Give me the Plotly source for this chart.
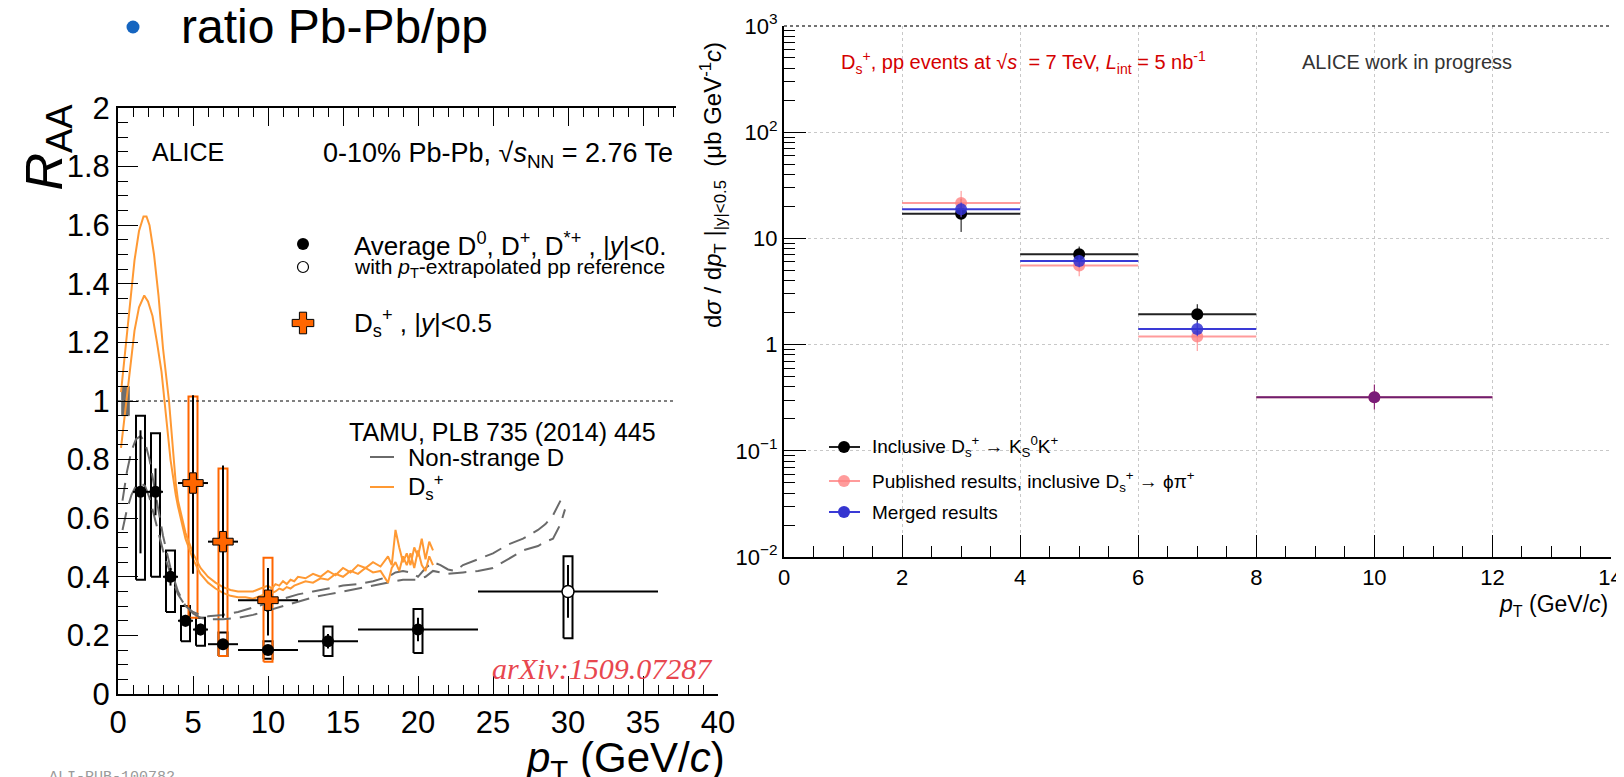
import plotly.graph_objects as go

W, H = 1624, 777          # screen size
OFF = 8                   # page margin of the browser
FW, FH = W - OFF, H - OFF # figure size
FONT = "Liberation Sans, Arial, sans-serif"

# ---------------- Left panel: R_AA ----------------
avg_pt = [1.5, 2.5, 3.5, 4.5, 5.5, 7, 10, 14, 20]
avg_raa = [0.69, 0.69, 0.40, 0.25, 0.22, 0.17, 0.15, 0.18, 0.22]
avg_bin = [0.5, 0.5, 0.5, 0.5, 0.5, 1, 2, 2, 4]
avg_stat = [0.21, 0.08, 0.03, 0.02, 0.02, 0.015, 0.015, 0.025, 0.04]
avg_sys_lo = [0.39, 0.40, 0.28, 0.18, 0.165, 0.13, 0.12, 0.13, 0.14]
avg_sys_hi = [0.95, 0.89, 0.49, 0.30, 0.26, 0.21, 0.18, 0.23, 0.29]

ext_pt = [30]
ext_raa = [0.35]
ext_bin = [6]
ext_stat = [0.09]
ext_sys_lo = [0.19]
ext_sys_hi = [0.47]

ds_pt = [5, 7, 10]
ds_raa = [0.72, 0.52, 0.32]
ds_bin = [1, 1, 2]
ds_stat_up = [0.30, 0.26, 0.11]
ds_stat_dn = [0.31, 0.26, 0.12]
ds_sys_lo = [0.26, 0.13, 0.11]
ds_sys_hi = [1.015, 0.77, 0.465]

norm_pt = [0.5]
norm_unc = [0.05]

unity_pt = [0, 37.2]
unity_val = [1, 1]

tamu_ds_a_pt = [0.2, 0.5, 0.8, 1.1, 1.4, 1.7, 1.9, 2.1, 2.4, 2.7, 3.0, 3.4, 3.85, 4.0, 4.5, 5.0, 5.5,
                6.0, 6.5, 7.0, 7.5, 8.0, 8.5, 9.0, 9.5, 10.0, 10.25, 10.5, 10.75, 11.0, 11.25, 11.5,
                11.75, 12.0, 12.5, 13.0, 13.5, 14.0, 14.5, 15.0, 15.5, 16.0, 16.5, 17.0, 17.5, 18.0,
                18.25, 18.5, 18.75, 19.0, 19.25, 19.5, 19.75, 20.0, 20.25, 20.5, 20.75, 21.0]
tamu_ds_a = [1.03, 1.18, 1.34, 1.48, 1.58, 1.63, 1.63, 1.60, 1.50, 1.36, 1.18, 1.00, 0.72, 0.66, 0.55,
             0.48, 0.43, 0.40, 0.38, 0.365, 0.355, 0.35, 0.35, 0.35, 0.36, 0.37, 0.36, 0.375, 0.37,
             0.385, 0.375, 0.39, 0.385, 0.40, 0.395, 0.41, 0.40, 0.42, 0.405, 0.43, 0.415, 0.44, 0.43,
             0.45, 0.435, 0.47, 0.44, 0.56, 0.50, 0.45, 0.48, 0.44, 0.50, 0.47, 0.53, 0.46, 0.52, 0.49]
tamu_ds_b_pt = [0.2, 0.5, 0.8, 1.1, 1.4, 1.75, 2.0, 2.3, 2.6, 2.9, 3.1, 3.5, 3.85, 4.0, 4.5, 5.0, 5.5,
                6.0, 6.5, 7.0, 7.5, 8.0, 8.5, 9.0, 9.5, 10.0, 10.25, 10.5, 10.75, 11.0, 11.25, 11.5,
                11.75, 12.0, 12.5, 13.0, 13.5, 14.0, 14.5, 15.0, 15.5, 16.0, 16.5, 17.0, 17.5, 18.0,
                18.25, 18.5, 18.75, 19.0, 19.25, 19.5, 19.75, 20.0, 20.25, 20.5, 20.75, 21.0]
tamu_ds_b = [0.84, 0.98, 1.12, 1.24, 1.32, 1.36, 1.34, 1.29, 1.20, 1.10, 1.00, 0.80, 0.68, 0.64, 0.53,
             0.46, 0.41, 0.38, 0.36, 0.345, 0.335, 0.33, 0.33, 0.325, 0.335, 0.345, 0.345, 0.35, 0.36,
             0.355, 0.365, 0.36, 0.37, 0.375, 0.385, 0.38, 0.395, 0.39, 0.41, 0.40, 0.42, 0.41, 0.43,
             0.415, 0.42, 0.38, 0.43, 0.45, 0.42, 0.47, 0.44, 0.48, 0.43, 0.49, 0.44, 0.42, 0.47, 0.44]

tamu_d_a_pt = [0.3, 0.6, 0.9, 1.2, 1.5, 1.8, 2.1, 2.5, 3.0, 3.5, 4.0, 4.5, 5.0, 5.5, 6, 7, 8, 9, 10, 11,
               12, 13, 14, 15, 16, 17, 18, 18.5, 19, 19.5, 20, 20.5, 21, 21.5, 22, 22.5, 23, 24, 25,
               26, 27, 28, 28.5, 29, 29.5]
tamu_d_a = [0.66, 0.76, 0.83, 0.87, 0.88, 0.86, 0.80, 0.69, 0.54, 0.43, 0.35, 0.30, 0.28, 0.27, 0.265,
            0.27, 0.28, 0.295, 0.31, 0.325, 0.34, 0.35, 0.36, 0.37, 0.375, 0.385, 0.40, 0.415, 0.42,
            0.415, 0.40, 0.43, 0.45, 0.44, 0.425, 0.42, 0.44, 0.46, 0.48, 0.51, 0.53, 0.56, 0.58,
            0.61, 0.66]
tamu_d_b_pt = [0.3, 0.6, 0.9, 1.2, 1.5, 1.8, 2.1, 2.5, 3.0, 3.5, 4.0, 4.5, 5.0, 5.5, 6, 7, 8, 9, 10, 11,
               12, 13, 14, 15, 16, 17, 18, 19, 20, 20.5, 21, 22, 23, 24, 25, 26, 27, 28, 28.5, 29,
               29.5, 29.8]
tamu_d_b = [0.56, 0.63, 0.68, 0.71, 0.72, 0.71, 0.67, 0.59, 0.49, 0.41, 0.34, 0.30, 0.275, 0.26,
            0.255, 0.255, 0.26, 0.27, 0.285, 0.30, 0.315, 0.33, 0.34, 0.35, 0.36, 0.37, 0.38, 0.39,
            0.39, 0.40, 0.42, 0.41, 0.415, 0.42, 0.43, 0.46, 0.49, 0.505, 0.52, 0.53, 0.58, 0.63]

# ---------------- Right panel: cross section ----------------
incl_pt = [3, 5, 7]
incl_bin = [1, 1, 1]
incl_xs = [17.1, 7.08, 1.93]
incl_up = [6.5, 1.3, 0.47]
incl_dn = [5.6, 1.05, 0.33]

pub_pt = [3, 5, 7, 10]
pub_bin = [1, 1, 1, 2]
pub_xs = [21.6, 5.55, 1.19, 0.32]
pub_up = [6.4, 1.15, 0.31, 0.10]
pub_dn = [5.6, 1.15, 0.32, 0.075]

mrg_pt = [3, 5, 7, 10]
mrg_bin = [1, 1, 1, 2]
mrg_xs = [18.8, 6.13, 1.40, 0.32]
mrg_up = [3.0, 0.8, 0.25, 0.10]
mrg_dn = [3.0, 0.8, 0.20, 0.075]

left_xticks = [0, 5, 10, 15, 20, 25, 30, 35, 40]
right_yticks = [0.01, 0.1, 1, 10, 100, 1000]
right_yticktext = ["10<sup>−2</sup>", "10<sup>−1</sup>", "1", "10", "10<sup>2</sup>", "10<sup>3</sup>"]

# ---------------- geometry (screen pixels) ----------------
LX0, LX1 = 118, 718      # left x 0 -> 40
LY0, LY1 = 694, 108      # left y 0 -> 2
LCUT = 676               # where the right picture covers the left one
RX0, RX1 = 784, 1610.5
RY0, RY1 = 557, 26

def px(x):
    return (x - OFF) / FW

def py(y):
    return 1 - (y - OFF) / FH

fig = go.Figure()

def box_path(xs, lo, hi, hw):
    X, Y = [], []
    for x, l, h in zip(xs, lo, hi):
        X += [x - hw, x + hw, x + hw, x - hw, x - hw, None]
        Y += [l, l, h, h, l, None]
    return X, Y

# systematic boxes
bx, by = box_path(avg_pt + ext_pt, avg_sys_lo + ext_sys_lo, avg_sys_hi + ext_sys_hi, 0.3)
fig.add_trace(go.Scatter(x=bx, y=by, mode="lines", line=dict(color="black", width=2),
                         xaxis="x", yaxis="y", hoverinfo="skip"))
bx, by = box_path(ds_pt, ds_sys_lo, ds_sys_hi, 0.3)
fig.add_trace(go.Scatter(x=bx, y=by, mode="lines", line=dict(color="#ff6600", width=2),
                         xaxis="x", yaxis="y", hoverinfo="skip"))
# normalisation box
nx, ny = box_path(norm_pt, [1 - u for u in norm_unc], [1 + u for u in norm_unc], 0.25)
fig.add_trace(go.Scatter(x=nx, y=ny, mode="lines", fill="toself", fillcolor="#6e6e6e",
                         line=dict(color="#6e6e6e", width=1), xaxis="x", yaxis="y", hoverinfo="skip"))
# unity line
fig.add_trace(go.Scatter(x=unity_pt, y=unity_val, mode="lines",
                         line=dict(color="black", width=1, dash="3px,3px"),
                         xaxis="x", yaxis="y", hoverinfo="skip"))
# model curves
for xs, ys in [(tamu_d_a_pt, tamu_d_a), (tamu_d_b_pt, tamu_d_b)]:
    fig.add_trace(go.Scatter(x=xs, y=ys, mode="lines",
                             line=dict(color="#6a6a6a", width=2, dash="18px,9px"),
                             xaxis="x", yaxis="y", hoverinfo="skip"))
for xs, ys in [(tamu_ds_a_pt, tamu_ds_a), (tamu_ds_b_pt, tamu_ds_b)]:
    fig.add_trace(go.Scatter(x=xs, y=ys, mode="lines",
                             line=dict(color="#ff9933", width=2),
                             xaxis="x", yaxis="y", hoverinfo="skip"))
# average D
fig.add_trace(go.Scatter(x=avg_pt, y=avg_raa, mode="markers",
                         marker=dict(color="black", size=12),
                         error_x=dict(type="data", array=avg_bin, color="black", thickness=2, width=0),
                         error_y=dict(type="data", array=avg_stat, color="black", thickness=2, width=0),
                         xaxis="x", yaxis="y"))
fig.add_trace(go.Scatter(x=ext_pt, y=ext_raa, mode="markers",
                         marker=dict(color="white", size=12, line=dict(color="black", width=1.5)),
                         error_x=dict(type="data", array=ext_bin, color="black", thickness=2, width=0),
                         error_y=dict(type="data", array=ext_stat, color="black", thickness=2, width=0),
                         xaxis="x", yaxis="y"))
# Ds
fig.add_trace(go.Scatter(x=ds_pt, y=ds_raa, mode="markers",
                         marker=dict(color="#ff6600", size=17, symbol="cross",
                                     line=dict(color="black", width=1)),
                         error_x=dict(type="data", array=ds_bin, color="black", thickness=2, width=0),
                         error_y=dict(type="data", symmetric=False, array=ds_stat_up,
                                      arrayminus=ds_stat_dn, color="black", thickness=2, width=0),
                         xaxis="x", yaxis="y"))
# invisible trace holding the top frame axis of the left panel
fig.add_trace(go.Scatter(x=[0], y=[0], mode="markers", marker=dict(opacity=0),
                         xaxis="x3", yaxis="y", hoverinfo="skip"))

# ---------------- right panel traces ----------------
fig.add_trace(go.Scatter(x=incl_pt, y=incl_xs, mode="markers",
                         marker=dict(color="black", size=12),
                         error_x=dict(type="data", array=incl_bin, color="#222", thickness=2, width=0),
                         error_y=dict(type="data", symmetric=False, array=incl_up, arrayminus=incl_dn,
                                      color="black", thickness=1, width=0),
                         xaxis="x2", yaxis="y2"))
fig.add_trace(go.Scatter(x=pub_pt, y=pub_xs, mode="markers",
                         marker=dict(color="rgba(255,130,130,0.8)", size=12),
                         error_x=dict(type="data", array=pub_bin, color="rgba(255,130,130,0.8)",
                                      thickness=2, width=0),
                         error_y=dict(type="data", symmetric=False, array=pub_up, arrayminus=pub_dn,
                                      color="rgba(255,130,130,0.9)", thickness=1, width=0),
                         xaxis="x2", yaxis="y2"))
fig.add_trace(go.Scatter(x=mrg_pt[:3], y=mrg_xs[:3], mode="markers",
                         marker=dict(color="rgba(50,50,210,0.85)", size=12),
                         error_x=dict(type="data", array=mrg_bin[:3], color="#3a3ad6", thickness=2, width=0),
                         error_y=dict(type="data", symmetric=False, array=mrg_up[:3], arrayminus=mrg_dn[:3],
                                      color="#3a3ad6", thickness=1, width=0),
                         xaxis="x2", yaxis="y2"))
fig.add_trace(go.Scatter(x=mrg_pt[3:], y=mrg_xs[3:], mode="markers",
                         marker=dict(color="#7a1c78", size=12),
                         error_x=dict(type="data", array=mrg_bin[3:], color="#6e1f70", thickness=2, width=0),
                         error_y=dict(type="data", symmetric=False, array=mrg_up[3:], arrayminus=mrg_dn[3:],
                                      color="#7a1c78", thickness=1, width=0),
                         xaxis="x2", yaxis="y2"))

# ---------------- legend keys (screen-pixel overlay) ----------------
def key_marker(x, y, **m):
    fig.add_trace(go.Scatter(x=[x], y=[y], mode="markers", marker=m, xaxis="x4", yaxis="y4",
                             hoverinfo="skip"))

def key_line(x0, x1, y, color, width=2):
    fig.add_trace(go.Scatter(x=[x0, x1], y=[y, y], mode="lines", line=dict(color=color, width=width),
                             xaxis="x4", yaxis="y4", hoverinfo="skip"))

key_marker(133, 27, color="#1565c0", size=13)
key_marker(303, 244, color="black", size=12)
key_marker(303, 267, color="white", size=11, line=dict(color="black", width=1.2))
key_marker(303, 323, color="#ff6600", size=18, symbol="cross", line=dict(color="black", width=1))
key_line(370, 394, 457, "#6a6a6a")
key_line(370, 394, 487, "#ff9933")
key_line(829, 860, 447, "#222")
key_marker(844, 447, color="black", size=12)
key_line(829, 860, 481, "rgba(255,130,130,0.8)")
key_marker(844, 481, color="rgba(255,130,130,0.8)", size=12)
key_line(829, 860, 512, "#3a3ad6")
key_marker(844, 512, color="#3535d0", size=12)

# ---------------- annotations ----------------
anns = []

def ann(text, x, y, size, color="black", xa="left", ya="middle", font=FONT, angle=0):
    anns.append(dict(text=text, x=px(x), y=py(y), xref="paper", yref="paper", showarrow=False,
                     xanchor=xa, yanchor=ya, textangle=angle,
                     font=dict(size=size, color=color, family=font)))

ann("ratio Pb-Pb/pp", 179, 26, 48)
ann("ALICE", 150, 152, 25)
ann("0-10% Pb-Pb, √<i>s</i><sub>NN</sub> = 2.76 Te", 321, 155, 27)
ann("Average D<sup>0</sup>, D<sup>+</sup>, D<sup>*+</sup> , |<i>y</i>|&lt;0.", 352, 244, 26)
ann("with <i>p</i><sub>T</sub>-extrapolated pp reference", 352, 268, 21)
ann("D<sub>s</sub><sup>+</sup> , |<i>y</i>|&lt;0.5", 352, 323, 26)
ann("TAMU, PLB 735 (2014) 445", 347, 432, 25)
ann("Non-strange D", 406, 457, 24)
ann("D<sub>s</sub><sup>+</sup>", 406, 487, 24)
ann("<i>arXiv:1509.07287</i>", 715, 668, 30, color="#e8474f", xa="right",
    font="Liberation Serif, Times New Roman, serif")
ann("ALI-PUB-100782", 47, 767, 15, color="#9a9a9a", ya="top", font="Liberation Mono, monospace")
ann("<i>R</i><sub>AA</sub>", 47, 102, 52, ya="top", xa="center", angle=-90)
ann("<i>p</i><sub>T</sub> (GeV/<i>c</i>)", 727, 760, 42, xa="right")

ann("D<sub>s</sub><sup>+</sup>, pp events at √<i>s</i>  = 7 TeV, <i>L</i><sub>int</sub> = 5 nb<sup>-1</sup>",
    839, 62, 20, color="#d40000")
ann("ALICE work in progress", 1300, 62, 20, color="#333333")
ann("Inclusive D<sub>s</sub><sup>+</sup> → K<sub>S</sub><sup>0</sup>K<sup>+</sup>", 870, 447, 19)
ann("Published results, inclusive D<sub>s</sub><sup>+</sup> → ϕπ<sup>+</sup>", 870, 481, 19)
ann("Merged results", 870, 512, 19)
ann("d<i>σ</i> / d<i>p</i><sub>T</sub> |<sub>|y|&lt;0.5</sub>  (μb GeV<sup>-1</sup><i>c</i>)",
    713, 40, 24, xa="center", ya="top", angle=-90)
ann("<i>p</i><sub>T</sub> (GeV/<i>c</i>)", 1610, 605, 23, xa="right")

axis_common = dict(showgrid=False, zeroline=False, linecolor="black", ticks="inside",
                   tickcolor="black", color="black", automargin=False)

fig.update_layout(
    template="none",
    width=FW, height=FH,
    margin=dict(l=0, r=0, t=0, b=0, autoexpand=False),
    paper_bgcolor="white", plot_bgcolor="rgba(0,0,0,0)",
    showlegend=False,
    annotations=anns,
    shapes=[dict(type="line", xref="x2 domain", yref="y2 domain", x0=0, x1=1, y0=1, y1=1,
                 line=dict(color="#444444", width=1.5, dash="dot"))],
    xaxis=dict(domain=[px(LX0), px(LX1)], range=[0, 40], anchor="y", tickmode="array",
               tickvals=left_xticks, ticklen=18, linewidth=2,
               tickfont=dict(size=31, family=FONT),
               minor=dict(dtick=1, ticks="inside", ticklen=9, tickcolor="black", showgrid=False),
               **axis_common),
    yaxis=dict(domain=[py(LY0), py(LY1)], range=[0, 2], anchor="x", dtick=0.2, tick0=0,
               ticklen=20, linewidth=2, tickfont=dict(size=31, family=FONT),
               minor=dict(dtick=0.05, ticks="inside", ticklen=10, tickcolor="black", showgrid=False),
               **axis_common),
    xaxis3=dict(domain=[px(LX0), px(LCUT)], range=[0, (LCUT - LX0) / (LX1 - LX0) * 40], anchor="y",
                side="top", showticklabels=False, tick0=0, dtick=5, ticklen=18, linewidth=2,
                minor=dict(dtick=1, ticks="inside", ticklen=9, tickcolor="black", showgrid=False),
                **axis_common),
    xaxis2=dict(domain=[px(RX0), px(RX1)], range=[0, 14], anchor="y2", dtick=2, tick0=0,
                ticklen=22, linewidth=2, tickfont=dict(size=22, family=FONT),
                showgrid=True, gridcolor="#c8c8c8", griddash="dot", gridwidth=1,
                minor=dict(dtick=0.5, ticks="inside", ticklen=11, tickcolor="black", showgrid=False),
                zeroline=False, linecolor="black", ticks="inside", tickcolor="black", color="black",
                automargin=False),
    yaxis2=dict(domain=[py(RY0), py(RY1)], type="log", range=[-2, 3], anchor="x2",
                tickmode="array", tickvals=right_yticks, ticktext=right_yticktext,
                ticklen=22, linewidth=2, tickfont=dict(size=22, family=FONT),
                showgrid=True, gridcolor="#c8c8c8", griddash="dot", gridwidth=1,
                minor=dict(ticks="inside", ticklen=11, tickcolor="black", dtick="D1", showgrid=False),
                zeroline=False, linecolor="black", ticks="inside", tickcolor="black", color="black",
                automargin=False),
    xaxis4=dict(domain=[0, 1], range=[OFF, W], anchor="y4", visible=False, fixedrange=True),
    yaxis4=dict(domain=[0, 1], range=[H, OFF], anchor="x4", visible=False, fixedrange=True),
)

fig.write_html("out.html")
